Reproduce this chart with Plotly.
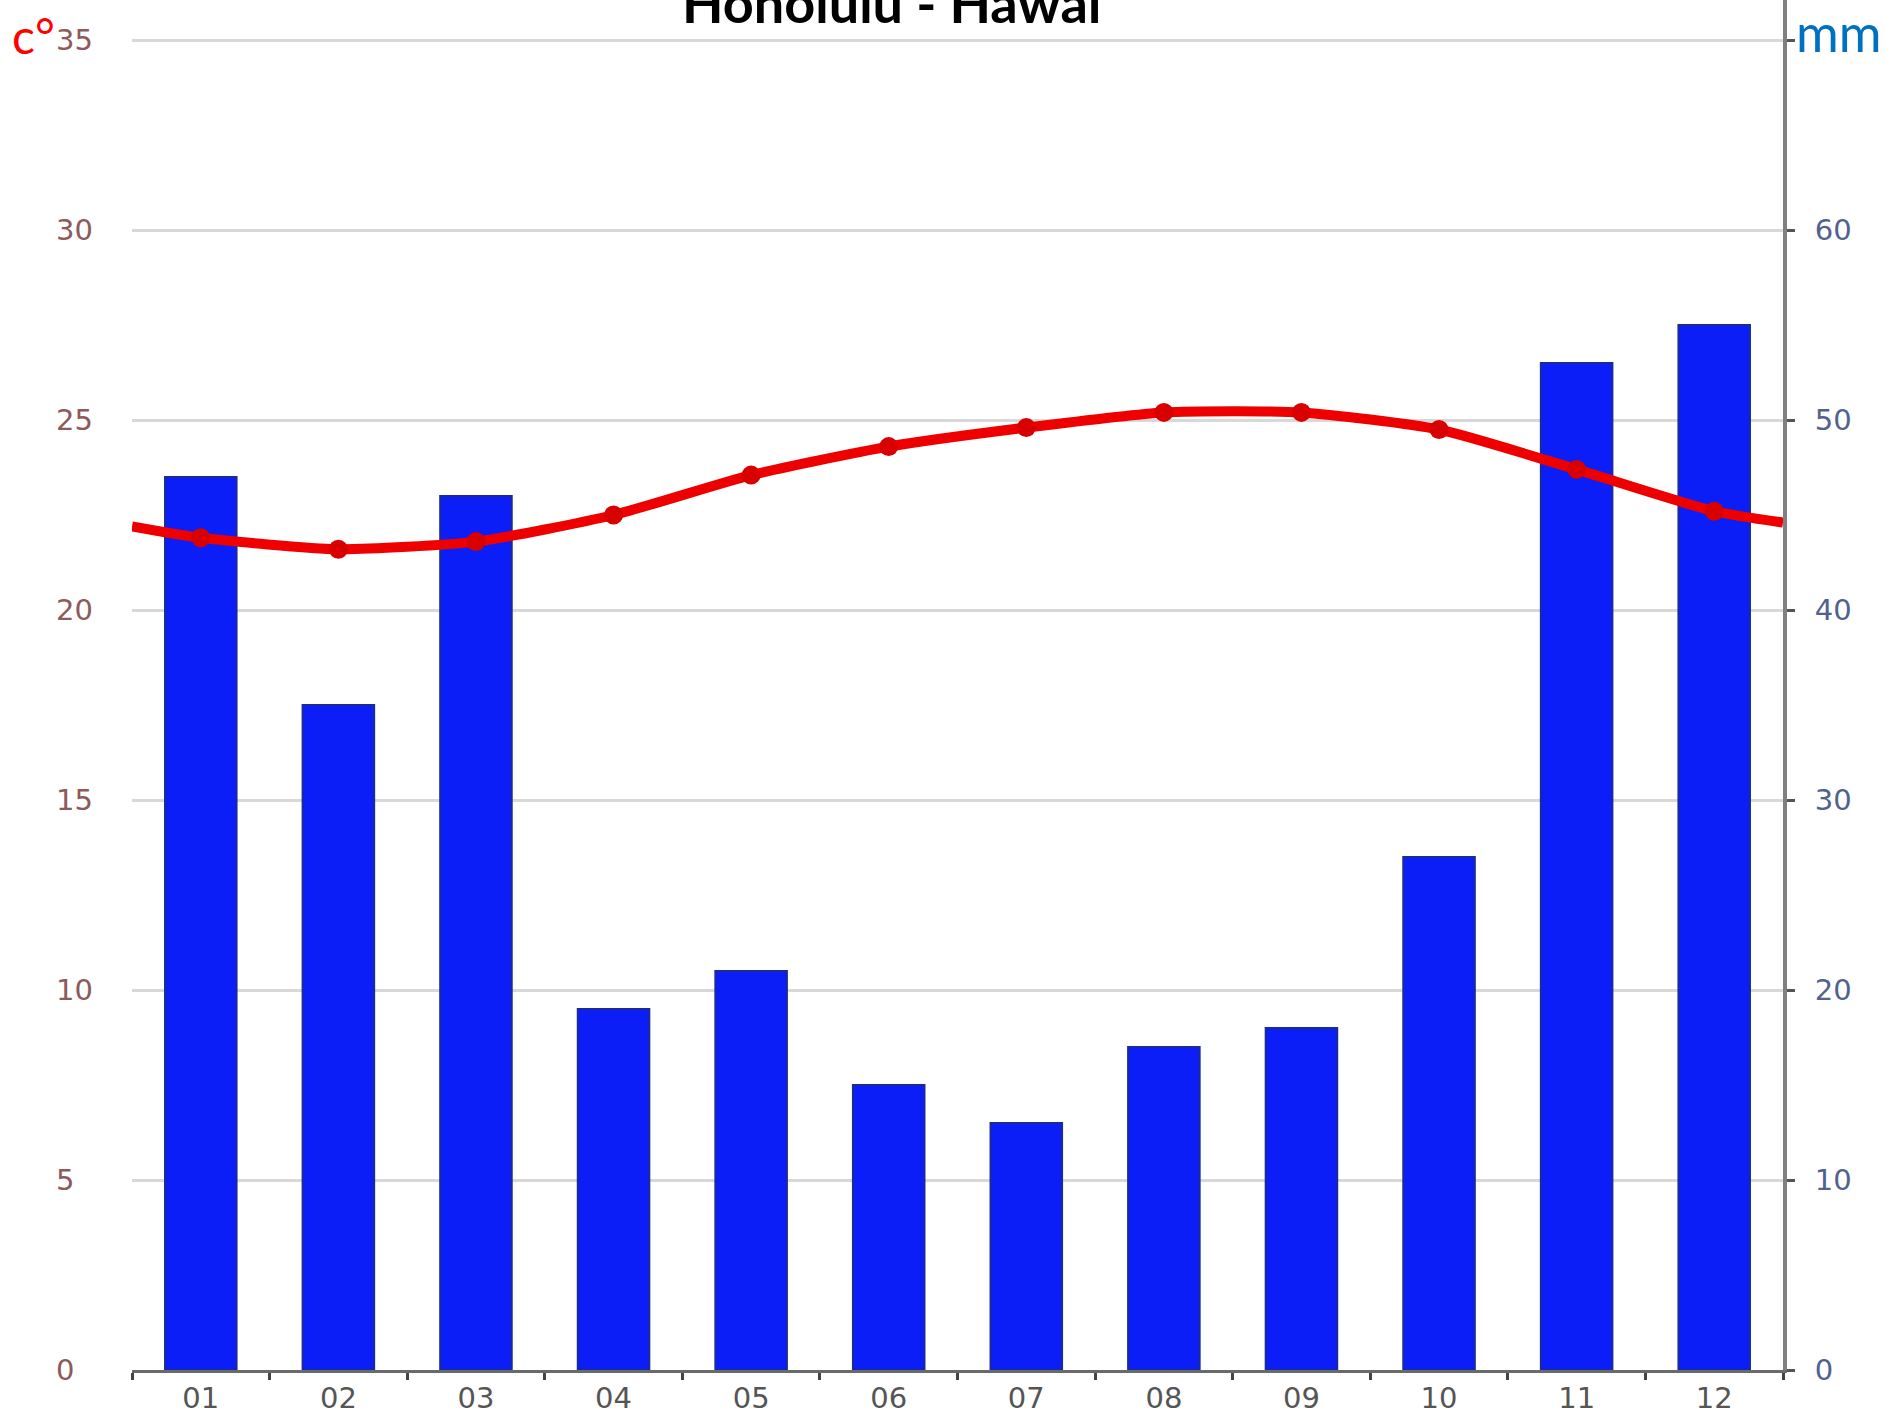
import plotly.graph_objects as go

# ---- data ----
months = ["01", "02", "03", "04", "05", "06", "07", "08", "09", "10", "11", "12"]
precip_mm = [47, 35, 46, 19, 21, 15, 13, 17, 18, 27, 53, 55]
temp_c = [21.9, 21.6, 21.8, 22.5, 23.55, 24.3, 24.8, 25.2, 25.2, 24.75, 23.7, 22.6]
temp_edges = [22.2, 22.3]          # line value where it meets left / right plot edges
temp_ticks = [0, 5, 10, 15, 20, 25, 30, 35]
mm_ticks = [0, 10, 20, 30, 40, 50, 60]
title_text = "Honolulu - Hawai"

W, H = 1885, 1410
L, R, T, B = 132, W - 1783, 0, 1410 - 1370
plot_h = H - T - B
px_per_c = (1370 - 40) / 35.0
temp_max = plot_h / px_per_c
mm_max = temp_max * 2

xpos = list(range(len(months)))
line_x = [-0.5] + xpos + [len(months) - 0.5]
line_y = [temp_edges[0]] + temp_c + [temp_edges[1]]

fig = go.Figure()
fig.add_trace(go.Bar(
    x=xpos, y=precip_mm, width=0.52, yaxis="y",
    marker=dict(color="#0b1ef8", line=dict(color="#1a2a9a", width=2)),
    showlegend=False,
))
fig.add_trace(go.Scatter(
    x=line_x, y=line_y, yaxis="y2", mode="lines",
    line=dict(color="#ee0000", width=10, shape="spline", smoothing=0.6),
    showlegend=False,
))
fig.add_trace(go.Scatter(
    x=xpos, y=temp_c, yaxis="y2", mode="markers",
    marker=dict(color="#d80000", size=19),
    showlegend=False,
))

tick_font = dict(family="DejaVu Sans", size=29)

fig.update_layout(
    width=W, height=H,
    margin=dict(l=L, r=R, t=T, b=B, autoexpand=False),
    paper_bgcolor="white", plot_bgcolor="white",
    xaxis=dict(
        range=[-0.5, len(months) - 0.5], automargin=False,
        tickmode="array", tickvals=xpos, ticktext=months,
        ticks="", showgrid=False, zeroline=False,
        showline=True, linecolor="#6a6a6a", linewidth=3,
        tickfont=dict(tick_font, color="#555555"),
        ticklabelstandoff=0,
        minor=dict(tickmode="linear", tick0=-0.5, dtick=1, ticks="outside",
                   ticklen=7, tickwidth=3, tickcolor="#444444", showgrid=False),
    ),
    yaxis=dict(
        side="right", range=[0, mm_max], automargin=False,
        tickmode="array", tickvals=mm_ticks + [70],
        ticktext=[str(v) for v in mm_ticks] + [""],
        showgrid=True, gridcolor="#d8d8d8", gridwidth=3, zeroline=False,
        showline=True, linecolor="#808080", linewidth=4,
        ticks="outside", ticklen=8, tickwidth=3, tickcolor="#555555",
        tickfont=dict(tick_font, color="#52628f"),
        ticklabelstandoff=14,
    ),
    yaxis2=dict(
        side="left", overlaying="y", range=[0, temp_max], automargin=False,
        tickmode="array", tickvals=temp_ticks,
        ticktext=[(str(v) + "\u2007") if v < 10 else str(v) for v in temp_ticks],
        showgrid=False, zeroline=False, showline=False, ticks="",
        tickfont=dict(tick_font, color="#8c5a5a"),
        ticklabelstandoff=38,
    ),
    bargap=0.48,
)

def px_to_paper_x(px):
    return (px - L) / (W - L - R)

def px_to_paper_y(py):
    return (H - B - py) / plot_h

fig.add_annotation(
    text="<b>" + title_text + "</b>", xref="paper", yref="paper",
    x=px_to_paper_x(892), y=px_to_paper_y(2), xanchor="center", yanchor="middle",
    showarrow=False, font=dict(family="Lato", size=54, color="black"),
)
fig.add_annotation(
    text="c°", xref="paper", yref="paper",
    x=px_to_paper_x(10), y=px_to_paper_y(35), xanchor="left", yanchor="middle",
    showarrow=False, font=dict(family="Lato", size=48, color="#ff0000"),
)
fig.add_annotation(
    text="mm", xref="paper", yref="paper",
    x=px_to_paper_x(1794), y=px_to_paper_y(32), xanchor="left", yanchor="middle",
    showarrow=False, font=dict(family="Lato", size=52, color="#0070c0"),
)

fig.write_html(
    "out.html",
    config={"displayModeBar": False},
    post_script="document.body.style.margin='0';document.body.style.overflow='hidden';",
)
